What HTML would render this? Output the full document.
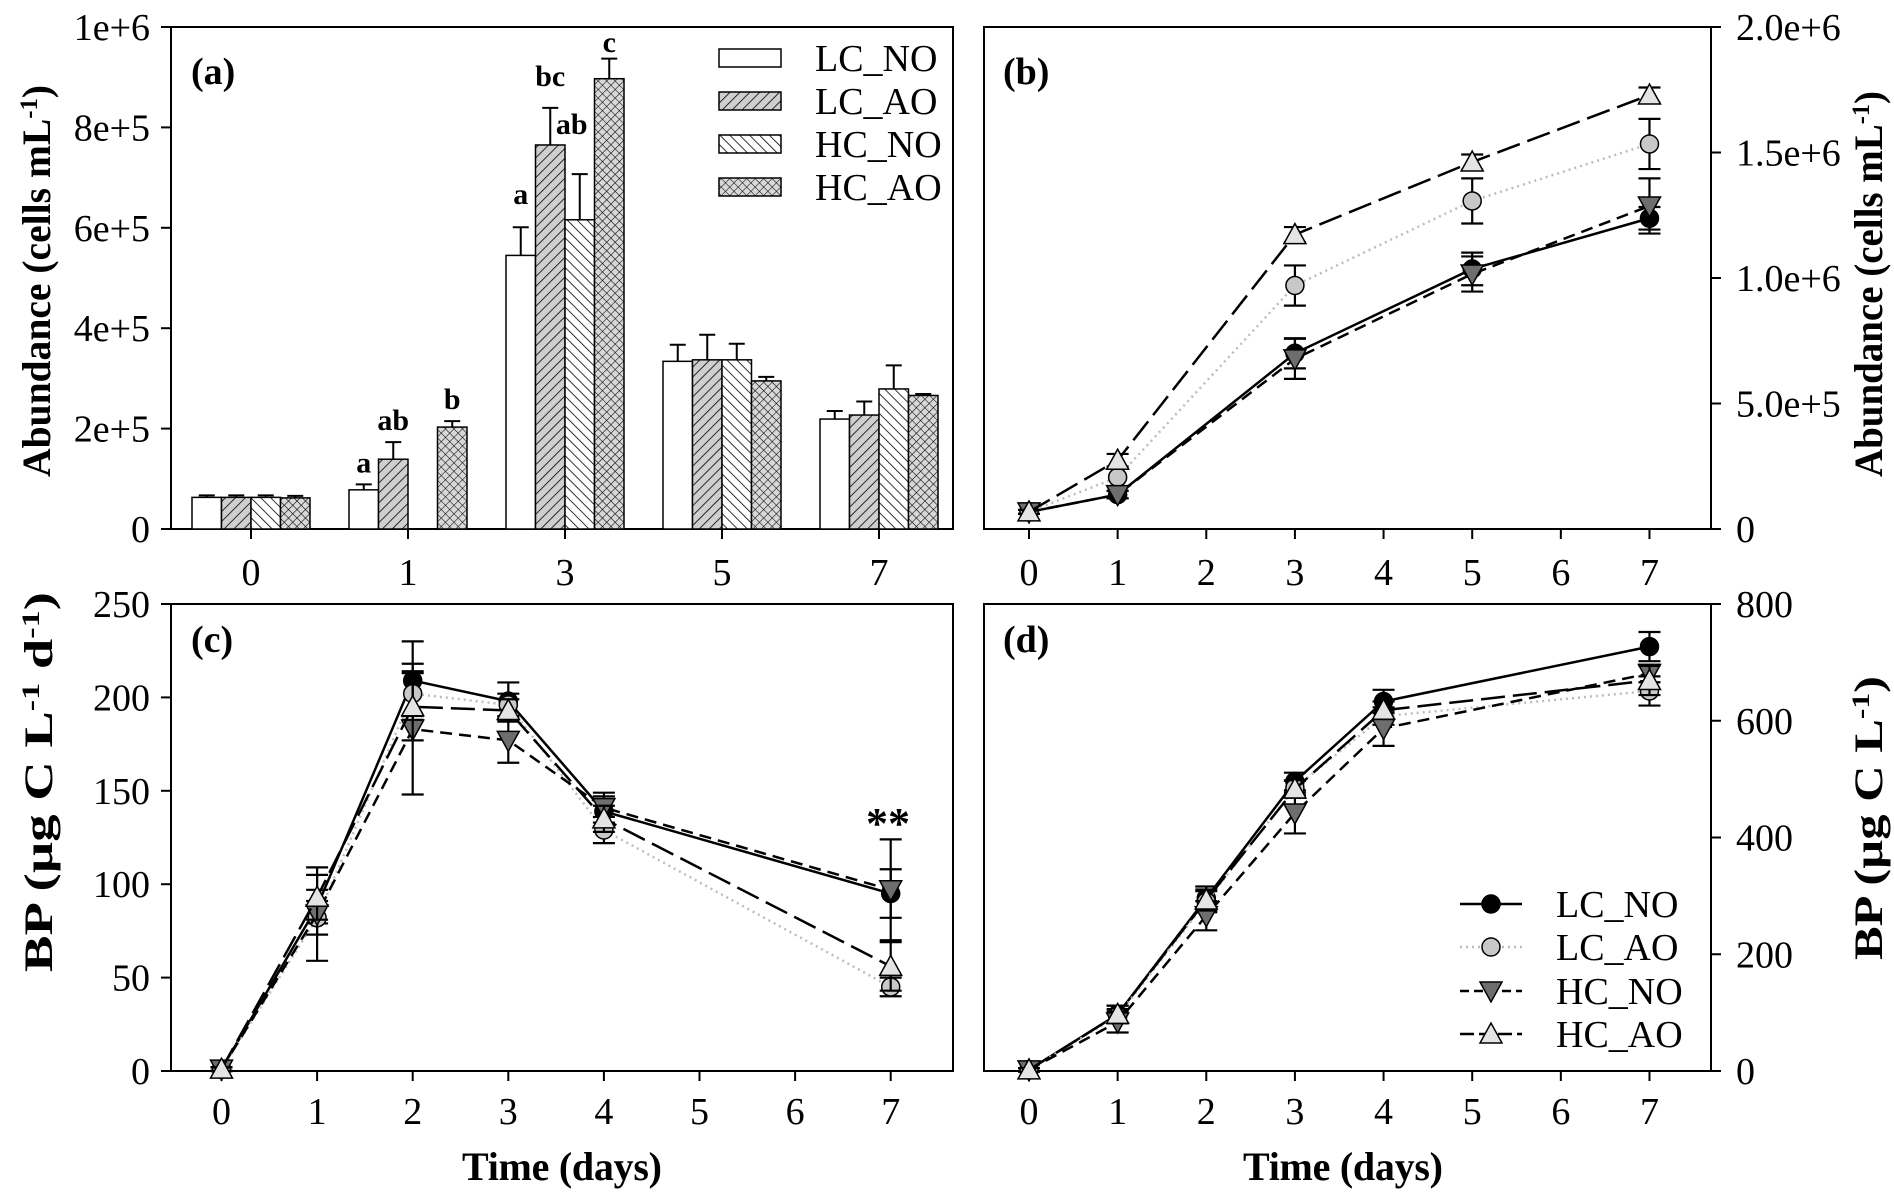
<!DOCTYPE html>
<html><head><meta charset="utf-8">
<style>
html,body{margin:0;padding:0;background:#fff;}
svg{display:block;}
text{font-family:"Liberation Serif",serif;fill:#000;}
</style></head>
<body>
<svg id="fig" xmlns="http://www.w3.org/2000/svg" width="1894" height="1202" viewBox="0 0 1894 1202">
<defs>
<pattern id="pFwd" patternUnits="userSpaceOnUse" width="7" height="7" patternTransform="rotate(45)">
<rect width="7" height="7" fill="#cfcfcf"/><line x1="0" y1="0" x2="0" y2="7" stroke="#000" stroke-width="1.6"/></pattern>
<pattern id="pBack" patternUnits="userSpaceOnUse" width="7" height="7" patternTransform="rotate(-45)">
<rect width="7" height="7" fill="#fff"/><line x1="0" y1="0" x2="0" y2="7" stroke="#000" stroke-width="1.6"/></pattern>
<pattern id="pCross" patternUnits="userSpaceOnUse" width="6" height="6" patternTransform="rotate(45)">
<rect width="6" height="6" fill="#d8d8d8"/><line x1="0" y1="0" x2="0" y2="6" stroke="#000" stroke-width="1.1"/><line x1="0" y1="0" x2="6" y2="0" stroke="#000" stroke-width="1.1"/></pattern>
</defs>
</svg>
<script>
// ---------- Panel (a) data ----------
const barDays = ["0","1","3","5","7"];
const seriesNames = ["LC_NO","LC_AO","HC_NO","HC_AO"];
const barLCNO = [63000, 78000, 545000, 334000, 219000];
const barLCAO = [63000, 139000, 765000, 337000, 227000];
const barHCNO = [63000, 0, 616000, 337000, 279000];
const barHCAO = [62000, 203000, 897000, 295000, 266000];
const errLCNO = [4000, 11000, 56000, 33000, 16000];
const errLCAO = [4000, 34000, 74000, 50000, 27000];
const errHCNO = [4000, 0, 91000, 32000, 47000];
const errHCAO = [4000, 12000, 40000, 8000, 3000];
const sigLetters = [["","","",""],["a","ab","","b"],["a","bc","ab","c"],["","","",""],["","","",""]];
const aTicks = [0,200000,400000,600000,800000,1000000];
const aTickLabels = ["0","2e+5","4e+5","6e+5","8e+5","1e+6"];

// ---------- Panel (b) data ----------
const bDays = [0,1,3,5,7];
const bLCNO = [68000, 137000, 700000, 1036000, 1238000];
const bLCAO = [68000, 206000, 970000, 1307000, 1534000];
const bHCNO = [68000, 137000, 678000, 1016000, 1287000];
const bHCAO = [68000, 274000, 1173000, 1462000, 1729000];
const bErrLCNO = [8000, 15000, 60000, 65000, 45000];
const bErrLCAO = [8000, 35000, 80000, 90000, 100000];
const bErrHCNO = [8000, 15000, 80000, 70000, 110000];
const bErrHCAO = [8000, 25000, 30000, 30000, 30000];
const bTicks = [0,500000,1000000,1500000,2000000];
const bTickLabels = ["0","5.0e+5","1.0e+6","1.5e+6","2.0e+6"];

// ---------- Panel (c) data ----------
const cDays = [0,1,2,3,4,7];
const cLCNO = [1, 88, 209, 198, 139, 95];
const cLCAO = [1, 82, 202, 196, 129, 45];
const cHCNO = [1, 84, 183, 177, 141, 97];
const cHCAO = [1, 93, 195, 193, 135, 56];
const cErrLCNO = [1, 9, 21, 10, 8, 13];
const cErrLCAO = [1, 9, 12, 6, 7, 5];
const cErrHCNO = [1, 25, 35, 12, 8, 27];
const cErrHCAO = [1, 12, 18, 6, 7, 13];
const cTicks = [0,50,100,150,200,250];

// ---------- Panel (d) data ----------
const dDays = [0,1,2,3,4,7];
const dLCNO = [2, 97, 296, 496, 633, 727];
const dLCAO = [2, 94, 290, 485, 608, 651];
const dHCNO = [2, 84, 266, 442, 587, 681];
const dHCAO = [2, 97, 293, 483, 618, 669];
const dErrLCNO = [3, 15, 20, 15, 20, 25];
const dErrLCAO = [3, 12, 18, 12, 15, 25];
const dErrHCNO = [3, 18, 25, 35, 30, 15];
const dErrHCAO = [3, 15, 18, 15, 15, 25];
const dTicks = [0,200,400,600,800];
const lineDays = [0,1,2,3,4,5,6,7];

const NS = "http://www.w3.org/2000/svg";
const svg = document.getElementById("fig");
const FS = 38;

function el(tag, attrs, parent) {
  const e = document.createElementNS(NS, tag);
  for (const k in attrs) e.setAttribute(k, attrs[k]);
  (parent || svg).appendChild(e);
  return e;
}
function txt(x, y, str, fs, anchor, weight, name) {
  const t = el("text", {x:x, y:y, "font-size":fs, "text-anchor":anchor||"middle", "font-weight":weight||"normal"});
  t.textContent = str;
  
  
  return t;
}
function frame(x0,y0,x1,y1,name){
  const r = el("rect",{x:x0,y:y0,width:x1-x0,height:y1-y0,fill:"none",stroke:"#000","stroke-width":2});
  
  
}
function tickLine(x1,y1,x2,y2,name){
  const l = el("line",{x1,y1,x2,y2,stroke:"#000","stroke-width":2});
  
  
}
function vTitle(x, y, parts, len, name) {
  const t = el("text", {transform:`translate(${x},${y}) rotate(-90)`, "font-size":40, "font-weight":"bold", "text-anchor":"middle", textLength:len, lengthAdjust:"spacingAndGlyphs"});
  
  
  parts.forEach(p => {
    const s = el("tspan", {}, t);
    if (p[1]) { s.setAttribute("baseline-shift","super"); s.setAttribute("font-size","25"); }
    s.textContent = p[0];
  });
}

// ================= Panel (a) =================
const A = {x0:171,x1:953,y0:27,y1:529};
const yA = v => A.y1 - v/1e6*(A.y1-A.y0);
const xA = i => 251 + i*157;
const BW = 29.5;
const barSeries = [barLCNO, barLCAO, barHCNO, barHCAO];
const barErr = [errLCNO, errLCAO, errHCNO, errHCAO];
const fills = ["#fff","url(#pFwd)","url(#pBack)","url(#pCross)"];
frame(A.x0,A.y0,A.x1,A.y1,"panel-a-frame");
aTicks.forEach((v,i)=>{
  tickLine(A.x0-10,yA(v),A.x0,yA(v),"panel-a-y-tick");
  txt(150,yA(v)+13,aTickLabels[i],FS,"end","normal","panel-a-y-tick-label");
});
barDays.forEach((d,i)=>{
  tickLine(xA(i),A.y1,xA(i),A.y1+10,"panel-a-x-tick");
  txt(xA(i),585,d,FS,"middle","normal","panel-a-x-tick-label");
  barSeries.forEach((s,j)=>{
    const v = s[i]; if (!v) return;
    const bx = xA(i) - 2*BW + j*BW;
    const ey = yA(v + barErr[j][i]);
    const el1 = el("line",{x1:bx+BW/2,y1:yA(v),x2:bx+BW/2,y2:ey,stroke:"#000","stroke-width":2});
    
    
    const el2 = el("line",{x1:bx+BW/2-8,y1:ey,x2:bx+BW/2+8,y2:ey,stroke:"#000","stroke-width":2});
    
    
    const r = el("rect",{x:bx,y:yA(v),width:BW,height:A.y1-yA(v),fill:fills[j],stroke:"#000","stroke-width":1.5});
    
    
    const L = sigLetters[i][j];
    if (L) {
      let lx = bx+BW/2, ly = ey - 12;
      if (L==="ab" && i===2) { lx = bx+BW/2 - 8; ly = 134; }
      if (L==="a" && i===2) { ly = 204; }
      if (L==="bc") { ly = 86; }
      if (L==="c") { ly = 52; }
      txt(lx, ly, L, 30, "middle", "bold", "significance-letter");
    }
  });
});
txt(191,84,"(a)",38,"start","bold","panel-a-label");
const legAY = [58,101,144,187];
seriesNames.forEach((n,j)=>{
  const r = el("rect",{x:719,y:legAY[j]-9,width:62,height:18,fill:fills[j],stroke:"#000","stroke-width":1.5});
  
  
  txt(815,legAY[j]+13,n,FS,"start","normal","legend-entry-label");
});
vTitle(50,281,[["Abundance (cells mL"],["-1",1],[")"]],392,"panel-a-y-axis-title");

// ================= markers & series helpers =================
const styles = [
  {name:"LC_NO", line:"#000", dash:"", w:2.5, marker:"circle", fill:"#000"},
  {name:"LC_AO", line:"#bdbdbd", dash:"2,4", w:2.5, marker:"circle", fill:"#c8c8c8"},
  {name:"HC_NO", line:"#000", dash:"12,7", w:2.5, marker:"down", fill:"#6e6e6e"},
  {name:"HC_AO", line:"#000", dash:"24,8", w:2.5, marker:"up", fill:"#e4e4e4"}
];
function marker(x,y,st,name){
  let m;
  if (st.marker==="circle") m = el("circle",{cx:x,cy:y,r:9,fill:st.fill,stroke:"#000","stroke-width":1.5});
  else if (st.marker==="down") m = el("polygon",{points:`${x-11},${y-9} ${x+11},${y-9} ${x},${y+11}`,fill:st.fill,stroke:"#000","stroke-width":1.5});
  else m = el("polygon",{points:`${x-11},${y+9} ${x+11},${y+9} ${x},${y-11}`,fill:st.fill,stroke:"#000","stroke-width":1.5});
  
  
}
function drawSeries(days, vals, errs, xf, yf, st, prefix){
  const pts = days.map((d,i)=>xf(d)+","+yf(vals[i])).join(" ");
  const pl = el("polyline",{points:pts,fill:"none",stroke:st.line,"stroke-width":st.w,"stroke-dasharray":st.dash});
  
  
  days.forEach((d,i)=>{
    const x = xf(d), yt = yf(vals[i]+errs[i]), yb = yf(vals[i]-errs[i]);
    const e = el("path",{d:`M${x},${yt}V${yb}M${x-11},${yt}H${x+11}M${x-11},${yb}H${x+11}`,stroke:"#000","stroke-width":2.2,fill:"none"});
    
    
  });
  days.forEach((d,i)=> marker(xf(d), yf(vals[i]), st, prefix + '-point-' + st.name.toLowerCase().replace('_','-')));
}

// ================= Panel (b) =================
const B = {x0:984,x1:1711,y0:27,y1:529};
const xB = d => 1029 + d*88.64;
const yB = v => B.y1 - v/2e6*(B.y1-B.y0);
frame(B.x0,B.y0,B.x1,B.y1,"panel-b-frame");
bTicks.forEach((v,i)=>{
  tickLine(B.x1,yB(v),B.x1+10,yB(v),"panel-b-y-tick");
  txt(1736,yB(v)+13,bTickLabels[i],FS,"start","normal","panel-b-y-tick-label");
});
lineDays.forEach(d=>{
  tickLine(xB(d),B.y1,xB(d),B.y1+10,"panel-b-x-tick");
  txt(xB(d),585,String(d),FS,"middle","normal","panel-b-x-tick-label");
});
[[bLCNO,bErrLCNO],[bLCAO,bErrLCAO],[bHCNO,bErrHCNO],[bHCAO,bErrHCAO]].forEach((p,j)=>drawSeries(bDays,p[0],p[1],xB,yB,styles[j],"panel-b"));
txt(1003,84,"(b)",38,"start","bold","panel-b-label");
vTitle(1882,284,[["Abundance (cells mL"],["-1",1],[")"]],386,"panel-b-y-axis-title");

// ================= Panel (c) =================
const C = {x0:171,x1:953,y0:604,y1:1071};
const xC = d => 221.5 + d*95.6;
const yC = v => C.y1 - v/250*(C.y1-C.y0);
frame(C.x0,C.y0,C.x1,C.y1,"panel-c-frame");
cTicks.forEach(v=>{
  tickLine(C.x0-10,yC(v),C.x0,yC(v),"panel-c-y-tick");
  txt(150,yC(v)+13,String(v),FS,"end","normal","panel-c-y-tick-label");
});
lineDays.forEach(d=>{
  tickLine(xC(d),C.y1,xC(d),C.y1+10,"panel-c-x-tick");
  txt(xC(d),1124,String(d),FS,"middle","normal","panel-c-x-tick-label");
});
[[cLCNO,cErrLCNO],[cLCAO,cErrLCAO],[cHCNO,cErrHCNO],[cHCAO,cErrHCAO]].forEach((p,j)=>drawSeries(cDays,p[0],p[1],xC,yC,styles[j],"panel-c"));
txt(191,652,"(c)",38,"start","bold","panel-c-label");
txt(888,838,"**",44,"middle","bold","significance-marker");
const tc = txt(562,1180,"Time (days)",40,"middle","bold","panel-c-x-axis-title");
tc.setAttribute("textLength","200");
vTitle(52,782,[["BP (µg C L"],["-1",1],[" d"],["-1",1],[")"]],380,"panel-c-y-axis-title");

// ================= Panel (d) =================
const D = {x0:984,x1:1711,y0:604,y1:1071};
const xD = d => 1029 + d*88.64;
const yD = v => D.y1 - v/800*(D.y1-D.y0);
frame(D.x0,D.y0,D.x1,D.y1,"panel-d-frame");
dTicks.forEach(v=>{
  tickLine(D.x1,yD(v),D.x1+10,yD(v),"panel-d-y-tick");
  txt(1736,yD(v)+13,String(v),FS,"start","normal","panel-d-y-tick-label");
});
lineDays.forEach(d=>{
  tickLine(xD(d),D.y1,xD(d),D.y1+10,"panel-d-x-tick");
  txt(xD(d),1124,String(d),FS,"middle","normal","panel-d-x-tick-label");
});
[[dLCNO,dErrLCNO],[dLCAO,dErrLCAO],[dHCNO,dErrHCNO],[dHCAO,dErrHCAO]].forEach((p,j)=>drawSeries(dDays,p[0],p[1],xD,yD,styles[j],"panel-d"));
txt(1003,652,"(d)",38,"start","bold","panel-d-label");
const td = txt(1343,1180,"Time (days)",40,"middle","bold","panel-d-x-axis-title");
td.setAttribute("textLength","200");
vTitle(1882,818,[["BP (µg C L"],["-1",1],[")"]],284,"panel-d-y-axis-title");
const legDY = [904,947,991,1034];
styles.forEach((st,j)=>{
  const l = el("line",{x1:1460,y1:legDY[j],x2:1522,y2:legDY[j],stroke:st.line,"stroke-width":2.5,"stroke-dasharray":st.dash?(j===2?"9,5":j===3?"14,5":"2,4"):""});
  
  
  marker(1491,legDY[j],st,'legend-marker-' + st.name.toLowerCase().replace('_','-'));
  txt(1556,legDY[j]+13,st.name,FS,"start","normal","legend-entry-label");
});
</script>
</body></html>
